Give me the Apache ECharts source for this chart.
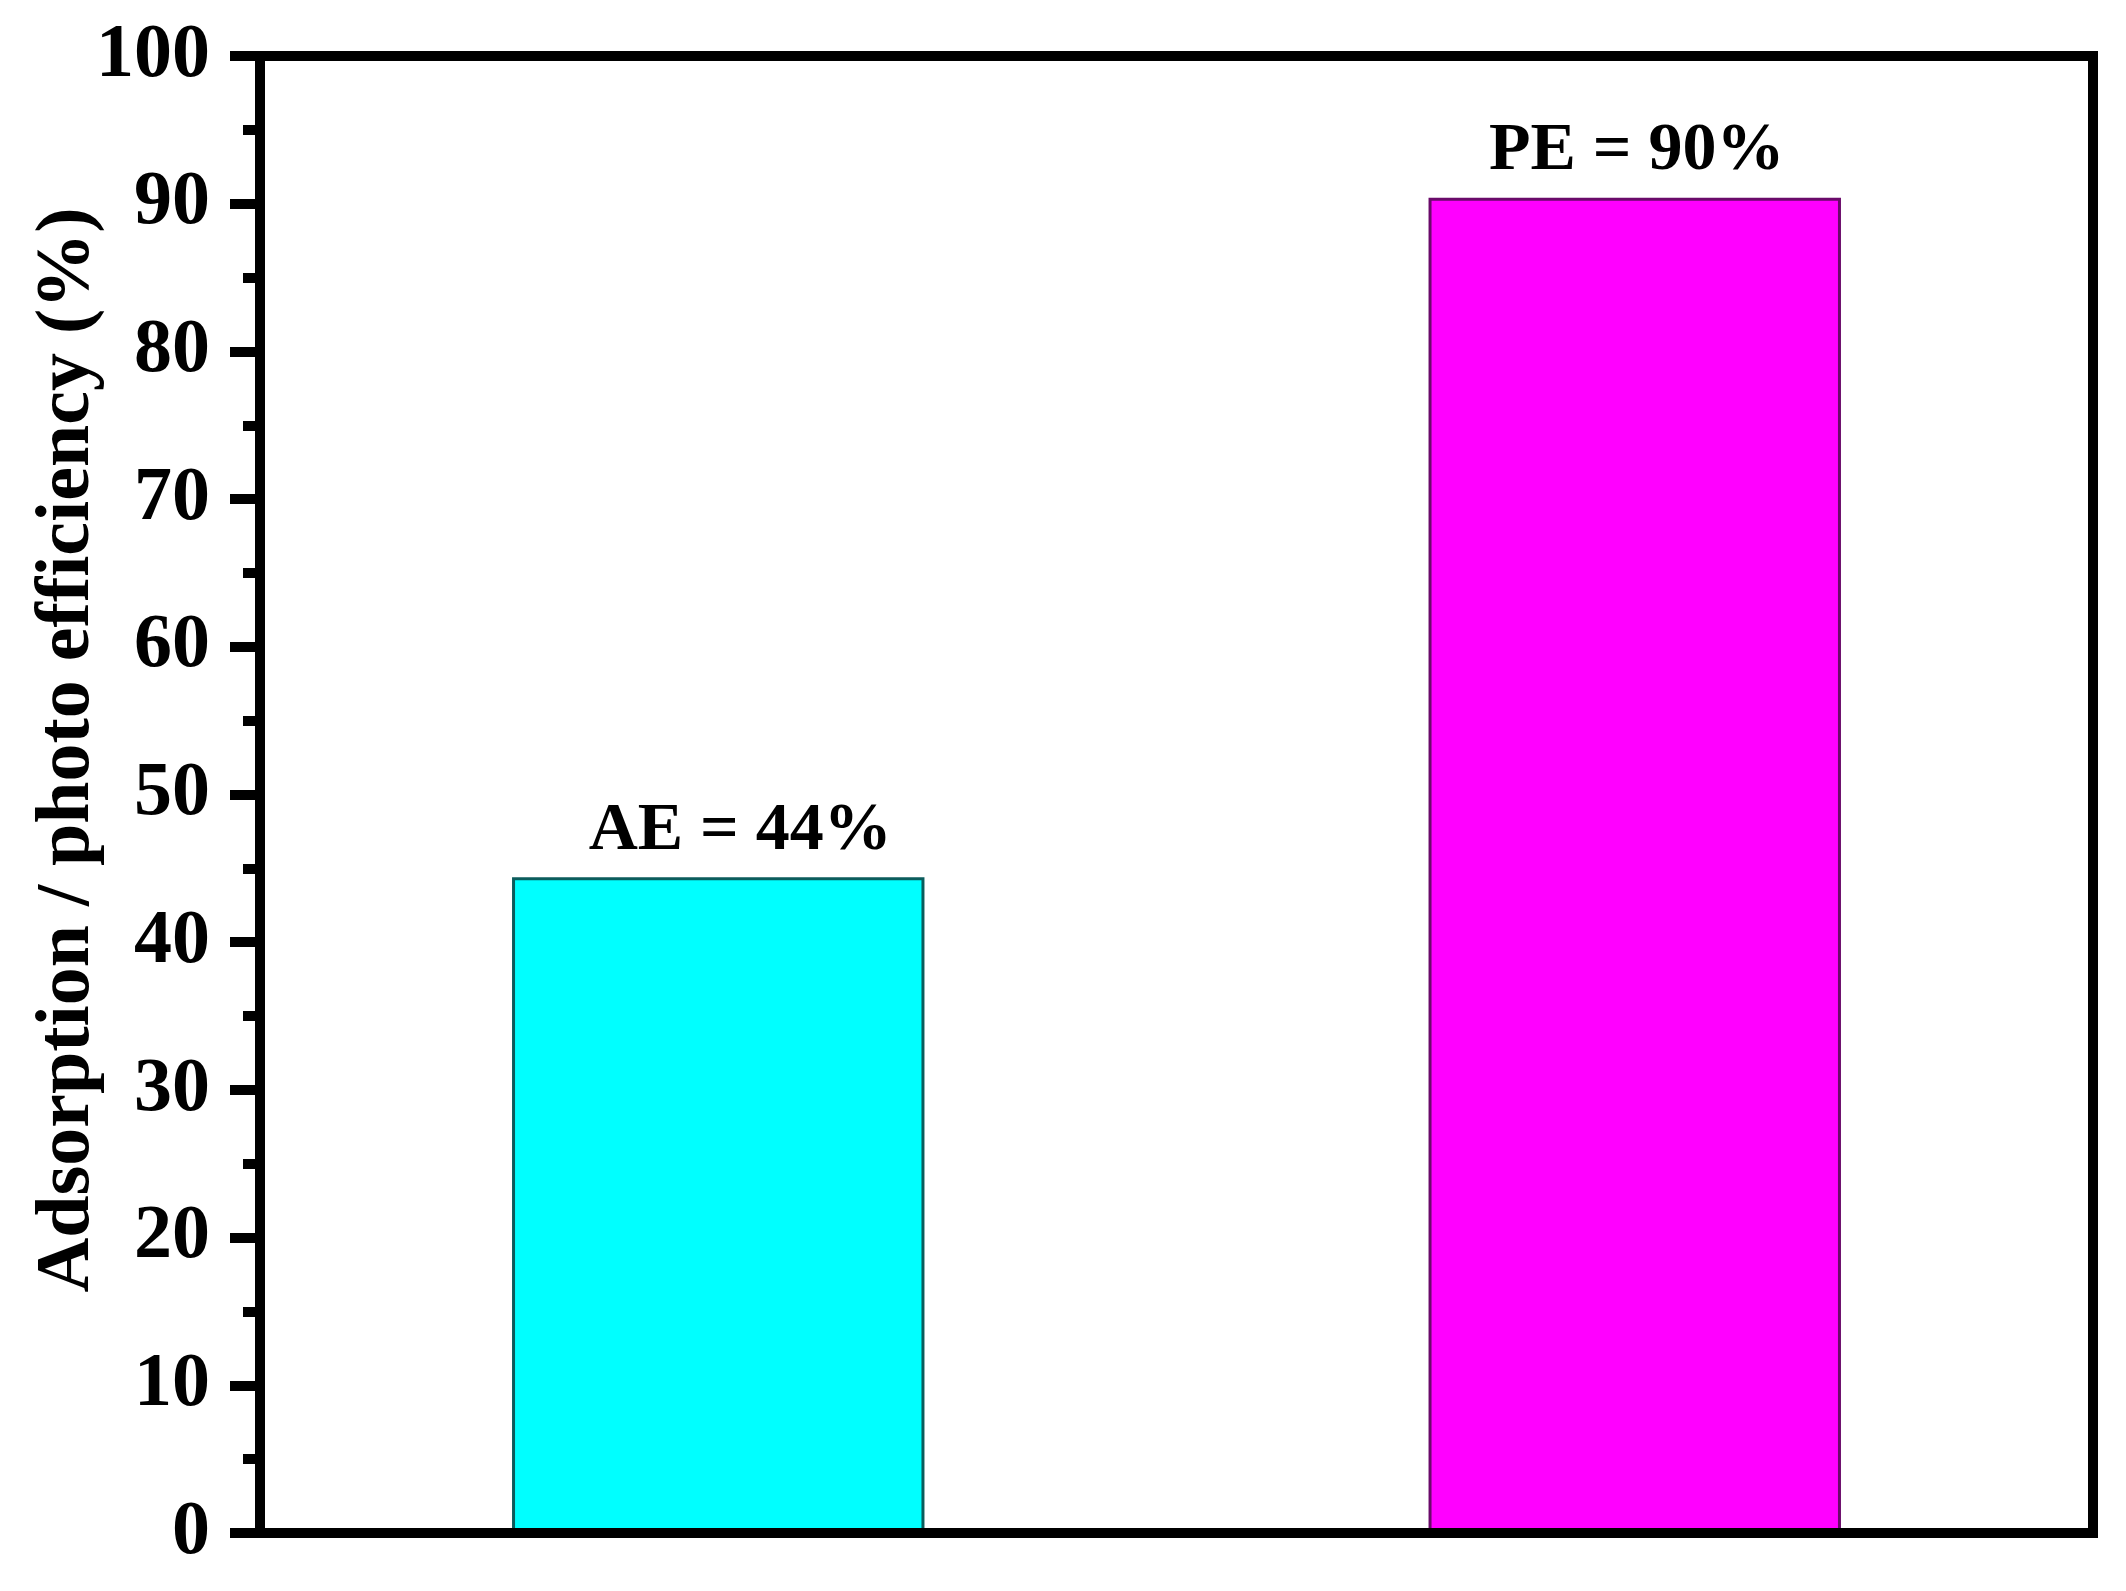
<!DOCTYPE html>
<html>
<head>
<meta charset="utf-8">
<script src="https://cdn.jsdelivr.net/npm/echarts@6/dist/echarts.min.js"></script>
<style>
html,body{margin:0;padding:0;background:#fff;}
#chart{width:2126px;height:1591px;}
</style>
</head>
<body>
<div id="chart"></div>
<script>
const categories = ['AE', 'PE'];
const values = [44.4, 90.4];
const barLabels = ['AE = 44%', 'PE = 90%'];
const barColors = ['#00FFFF', '#FF00FF'];
const barBorders = ['#0b5c5c', '#6a0a6a'];
const labelShift = [22, 2];
const yTitle = 'Adsorption / photo efficiency (%)';

const font = '"Liberation Serif", "Times New Roman", serif';
const chart = echarts.init(document.getElementById('chart'));
chart.setOption({
  backgroundColor: '#ffffff',
  animation: false,
  grid: {
    left: 260, right: 33, top: 56, bottom: 58,
    show: true, borderColor: '#000', borderWidth: 10, backgroundColor: 'transparent'
  },
  xAxis: {
    type: 'category',
    data: categories,
    z: 5,
    axisLine: { lineStyle: { color: '#000', width: 10 } },
    axisTick: { show: false },
    axisLabel: { show: false },
    splitLine: { show: false }
  },
  yAxis: {
    type: 'value',
    min: 0, max: 100, interval: 10,
    z: 5,
    axisLine: { show: true, lineStyle: { color: '#000', width: 10 } },
    axisTick: { show: true, length: 30, lineStyle: { color: '#000', width: 10 } },
    minorTick: { show: true, splitNumber: 2, length: 17, lineStyle: { color: '#000', width: 10 } },
    splitLine: { show: false },
    axisLabel: {
      margin: 50, color: '#000', fontFamily: font, fontWeight: 'bold', fontSize: 76
    }
  },
  graphic: [{
    type: 'text',
    x: 68, y: 750,
    rotation: Math.PI / 2,
    style: {
      text: yTitle,
      fill: '#000',
      font: 'bold 76px ' + font,
      textAlign: 'center',
      textVerticalAlign: 'middle'
    }
  }],
  series: [{
    type: 'bar',
    barWidth: '45%',
    data: values.map((v, i) => ({
      value: v,
      itemStyle: { color: barColors[i], borderColor: barBorders[i], borderWidth: 3 },
      label: { offset: [labelShift[i], 0] }
    })),
    label: {
      show: true,
      position: 'top',
      distance: 12,
      color: '#000',
      fontFamily: font,
      fontWeight: 'bold',
      fontSize: 68,
      formatter: p => barLabels[p.dataIndex]
    }
  }]
});
</script>
</body>
</html>
